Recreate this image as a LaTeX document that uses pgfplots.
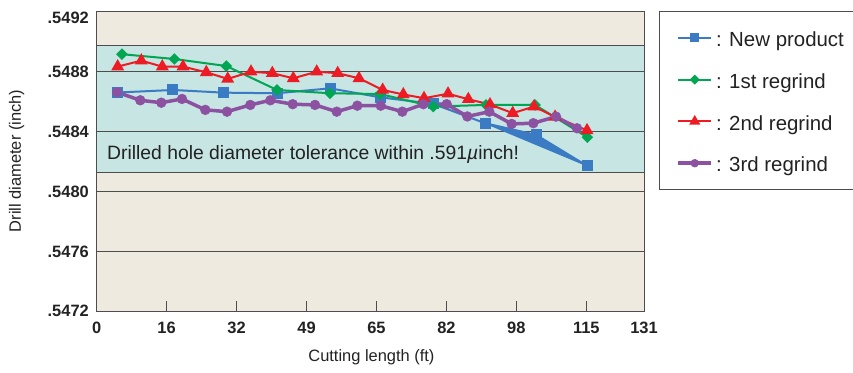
\documentclass[border=0pt]{standalone}
\usepackage{pgfplots}
\pgfplotsset{compat=1.18}
\usepackage{fontspec}
\setmainfont{Liberation Sans}
\definecolor{bgbeige}{HTML}{EEEAE0}
\definecolor{band}{HTML}{C6E5E3}
\definecolor{cblue}{HTML}{3B7BC4}
\definecolor{cgreen}{HTML}{00A652}
\definecolor{cred}{HTML}{ED1C24}
\definecolor{cpurple}{HTML}{8C52A1}
\definecolor{gridc}{HTML}{4D4D4D}
\definecolor{txt}{HTML}{222222}
\begin{document}
\begin{tikzpicture}
\path[use as bounding box] (-96.7bp,-61.7bp) rectangle (756.3bp,311.3bp);
\begin{axis}[
  at={(0,0)}, anchor=south west,
  scale only axis, width=547.3bp, height=299.3bp,
  xmin=0, xmax=128.33, ymin=0.5472, ymax=0.5492,
  axis background/.style={fill=bgbeige},
  axis line style={draw=gridc, line width=1bp},
  xtick={0,16.4,32.8,49.2,65.6,82,98.4,114.8,128.33},
  xticklabels={0,16,32,49,65,82,98,115,131},
  ytick={0.5472,0.5476,0.548,0.5484,0.5488},
  yticklabels={.5472,.5476,.5480,.5484,.5488},
  extra y ticks={0.5492}, extra y tick labels={.5492},
  extra y tick style={yticklabel style={yshift=-6bp}, tick style={draw=none}},
  tick align=inside, xtick pos=lower, ytick pos=left,
  major tick length=10.7bp,
  x tick style={draw=gridc, line width=0.8bp},
  y tick style={draw=none},
  /pgf/number format/assume math mode=true,
  ticklabel style={font=\fontsize{16.5}{18}\selectfont\bfseries, text=txt},
  xticklabel style={inner sep=0pt, anchor=north, yshift=-11bp},
  yticklabel style={inner sep=0pt, anchor=east, xshift=-7.7bp},
  xlabel={Cutting length (ft)}, ylabel={Drill diameter (inch)},
  every axis x label/.style={at={(axis description cs:0.502,-0.1527)}, anchor=center,
    font=\fontsize{16.5}{18}\selectfont, text=txt},
  every axis y label/.style={at={(axis description cs:-0.1462,0.502)}, rotate=90, anchor=center,
    font=\fontsize{16.5}{18}\selectfont, text=txt},
  legend style={at={(1.0274,1.004)}, anchor=north west, draw=gridc, line width=1bp,
    fill=white, font=\fontsize{20.5}{24}\selectfont, text=txt,
    inner xsep=17bp, inner ysep=5.6bp, column sep=3bp, row sep=0pt,
    nodes={inner sep=0pt, text height=29.5bp, text depth=12.3bp}},
  legend cell align=left,
  legend image code/.code={\draw[#1, mark repeat=2, mark phase=2, /tikz/every mark/.append style={scale=0.8}] plot coordinates {(0bp,0bp) (16.5bp,0bp) (33bp,0bp)};},
]
% tolerance band and grid lines
\fill[band] (axis cs:0,0.54813) rectangle (axis cs:128.33,0.54898);
\draw[gridc, line width=0.8bp] (axis cs:0,0.54813) -- (axis cs:128.33,0.54813);
\draw[gridc, line width=0.8bp] (axis cs:0,0.54898) -- (axis cs:128.33,0.54898);
\draw[gridc, line width=0.8bp] (axis cs:0,0.5476) -- (axis cs:128.33,0.5476);
\draw[gridc, line width=0.8bp] (axis cs:0,0.5480) -- (axis cs:128.33,0.5480);
\draw[gridc, line width=0.8bp] (axis cs:0,0.5484) -- (axis cs:128.33,0.5484);
\draw[gridc, line width=0.8bp] (axis cs:0,0.5488) -- (axis cs:128.33,0.5488);
\node[anchor=base west, inner sep=0pt, font=\fontsize{19.4}{22}\selectfont, text=txt]
  at (axis cs:2.42,0.548216) {Drilled hole diameter tolerance within .591{\itshape µ}inch!};

% blue wedge
\addplot[cblue, fill=cblue, line width=1bp, forget plot] coordinates {
  (91.05,0.548457) (103.01,0.548379) (114.97,0.548172)} -- cycle;
\addplot[cblue, line width=2bp, mark=square*, mark size=4.5bp, mark options={solid, fill=cblue}] coordinates {
  (4.99,0.548662) (17.89,0.548679) (29.78,0.548661) (42.28,0.548657) (54.71,0.548690)
  (66.43,0.548630) (78.93,0.548586) (91.05,0.548457) (103.01,0.548379) (114.97,0.548172)};
\addlegendentry{: New product}
\addplot[cgreen, line width=2bp, mark=square*, mark size=3.1bp, mark options={solid, fill=cgreen, rotate=45}] coordinates {
  (5.93,0.548918) (18.20,0.548886) (30.39,0.548839) (42.28,0.548679) (54.71,0.548657)
  (66.43,0.548652) (78.93,0.548568) (91.29,0.548579) (102.78,0.548579) (115.04,0.548363)};
\addlegendentry{: 1st regrind}
\addplot[cred, line width=2bp, mark=triangle*, mark size=5.5bp, mark options={solid, fill=cred}] coordinates {
  (4.92,0.548835) (10.46,0.548875) (15.38,0.548835) (20.24,0.548835) (25.70,0.548797)
  (30.72,0.548753) (36.18,0.548801) (41.18,0.548791) (46.10,0.548757) (51.59,0.548801)
  (56.51,0.548791) (61.51,0.548757) (67.06,0.548679) (71.89,0.548649) (76.75,0.548624)
  (82.38,0.548654) (87.14,0.548617) (92.22,0.548582) (97.55,0.548524) (102.54,0.548568)
  (107.47,0.548499) (114.97,0.548409)};
\addlegendentry{: 2nd regrind}
\addplot[cpurple, line width=3.5bp, mark=*, mark size=4.9bp, mark options={solid, fill=cpurple, line width=0.5bp}] coordinates {
  (4.76,0.548664) (10.22,0.548610) (15.15,0.548594) (20.00,0.548619) (25.47,0.548546)
  (30.55,0.548534) (36.02,0.548579) (40.71,0.548610) (45.96,0.548584) (51.19,0.548579)
  (56.28,0.548534) (61.11,0.548574) (66.60,0.548574) (71.66,0.548534) (76.59,0.548584)
  (82.07,0.548584) (86.90,0.548502) (92.06,0.548534) (97.31,0.548452) (102.38,0.548457)
  (107.70,0.548501) (112.63,0.548423)};
\addlegendentry{: 3rd regrind}
\end{axis}
\end{tikzpicture}
\end{document}
